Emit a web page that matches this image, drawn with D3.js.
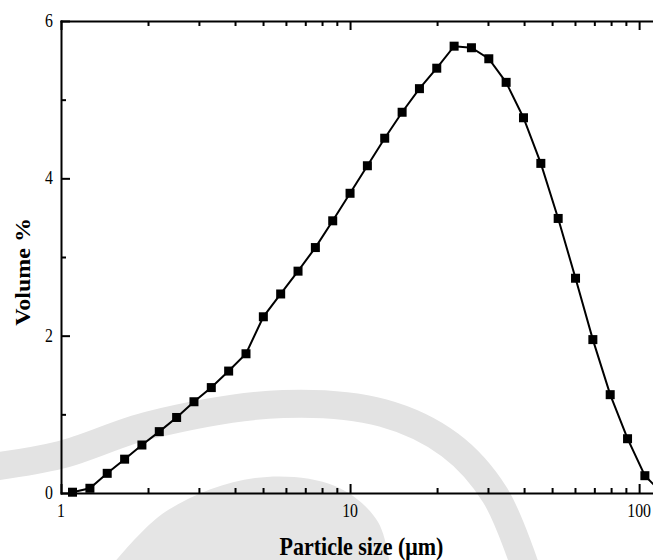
<!DOCTYPE html>
<html>
<head>
<meta charset="utf-8">
<script src="https://cdn.jsdelivr.net/npm/d3@7"></script>
<style>
  html, body { margin: 0; padding: 0; background: #ffffff; }
  svg { display: block; }
</style>
</head>
<body>
<svg id="chart" width="653" height="560"></svg>
<script>
// Particle size distribution (laser diffraction bins, µm) and volume fraction (%)
const sizes = [1.096, 1.259, 1.445, 1.660, 1.905, 2.188, 2.512, 2.884, 3.311, 3.802,
               4.365, 5.012, 5.754, 6.607, 7.586, 8.710, 10.00, 11.48, 13.18, 15.14,
               17.38, 19.95, 22.91, 26.30, 30.20, 34.67, 39.81, 45.71, 52.48, 60.26,
               69.18, 79.43, 91.20, 104.7, 120.2];
const volumes = [0.01, 0.06, 0.25, 0.43, 0.61, 0.78, 0.96, 1.16, 1.34, 1.55,
                 1.77, 2.24, 2.53, 2.82, 3.12, 3.46, 3.81, 4.16, 4.51, 4.84,
                 5.14, 5.40, 5.68, 5.66, 5.52, 5.22, 4.77, 4.19, 3.49, 2.73,
                 1.95, 1.25, 0.69, 0.22, 0.00];

const xMajorTicks = [1, 10, 100];
const xMinorTicks = [2, 3, 4, 5, 6, 7, 8, 9, 20, 30, 40, 50, 60, 70, 80, 90];
const yMajorTicks = [0, 2, 4, 6];
const yMinorTicks = [1, 3, 5];
const xTitle = "Particle size (\u03bcm)";
const yTitle = "Volume %";

// background seal bands (light grey)
const sealOuter = [[-30, 470], [60, 455], [150, 425], [283, 404], [383, 413],
                   [450, 445], [495, 495], [528, 575]];
const sealInner = [[100, 580], [165, 512], [255, 478], [335, 486], [378, 522],
                   [392, 580]];

const W = 653, H = 560;
const frame = { left: 61, right: 662, top: 21, bottom: 493 };
const squeeze = 0.88;

const svg = d3.select("#chart");

const x = d3.scaleLog().domain([1, 120]).range([frame.left, frame.right]);
const y = d3.scaleLinear().domain([0, 6]).range([frame.bottom, frame.top]);

// ---- seal layer ----
const seal = svg.append("g").attr("class", "seal");
const smooth = d3.line().curve(d3.curveCatmullRom.alpha(0.5));
seal.append("path")
  .attr("d", smooth(sealOuter))
  .attr("fill", "none")
  .attr("stroke", "#e3e3e3")
  .attr("stroke-width", 28);
seal.append("path")
  .attr("d", smooth(sealInner) + "Z")
  .attr("fill", "#e5e5e5")
  .attr("stroke", "none");

// ---- axes ----
function styleAxis(g, keepDomain) {
  g.select(".domain")
    .attr("stroke", keepDomain ? "#000" : "none")
    .attr("stroke-width", 2)
    .attr("stroke-linecap", "square");
  g.selectAll(".tick line").attr("stroke", "#000").attr("stroke-width", 2);
  g.selectAll(".tick text").remove();
}

const axes = svg.append("g").attr("class", "axes");

// bottom
axes.append("g").attr("transform", `translate(0,${frame.bottom})`)
  .call(d3.axisBottom(x).tickValues(xMajorTicks).tickSize(-9).tickSizeOuter(0))
  .call(g => styleAxis(g, true));
axes.append("g").attr("transform", `translate(0,${frame.bottom})`)
  .call(d3.axisBottom(x).tickValues(xMinorTicks).tickSize(-5).tickSizeOuter(0))
  .call(g => styleAxis(g, false));
// top
axes.append("g").attr("transform", `translate(0,${frame.top})`)
  .call(d3.axisTop(x).tickValues(xMajorTicks).tickSize(-9).tickSizeOuter(0))
  .call(g => styleAxis(g, true));
axes.append("g").attr("transform", `translate(0,${frame.top})`)
  .call(d3.axisTop(x).tickValues(xMinorTicks).tickSize(-5).tickSizeOuter(0))
  .call(g => styleAxis(g, false));
// left
axes.append("g").attr("transform", `translate(${frame.left},0)`)
  .call(d3.axisLeft(y).tickValues(yMajorTicks).tickSize(-9).tickSizeOuter(0))
  .call(g => styleAxis(g, true));
axes.append("g").attr("transform", `translate(${frame.left},0)`)
  .call(d3.axisLeft(y).tickValues(yMinorTicks).tickSize(-5).tickSizeOuter(0))
  .call(g => styleAxis(g, false));
// right
axes.append("g").attr("transform", `translate(${frame.right},0)`)
  .call(d3.axisRight(y).tickValues(yMajorTicks).tickSize(-9).tickSizeOuter(0))
  .call(g => styleAxis(g, true));
axes.append("g").attr("transform", `translate(${frame.right},0)`)
  .call(d3.axisRight(y).tickValues(yMinorTicks).tickSize(-5).tickSizeOuter(0))
  .call(g => styleAxis(g, false));

// ---- tick labels (Times-like serif, slightly condensed) ----
const labels = svg.append("g")
  .attr("font-family", "'Liberation Serif', 'Times New Roman', serif")
  .attr("fill", "#000");

labels.selectAll("text.xl")
  .data(xMajorTicks)
  .join("text")
  .attr("class", "xl")
  .attr("transform", d => `translate(${x(d)},517) scale(${squeeze},1)`)
  .attr("text-anchor", "middle")
  .attr("font-size", 18)
  .text(d => d3.format("d")(d));

labels.selectAll("text.yl")
  .data(yMajorTicks)
  .join("text")
  .attr("class", "yl")
  .attr("transform", d => `translate(53,${y(d) + 6}) scale(${squeeze},1)`)
  .attr("text-anchor", "end")
  .attr("font-size", 18)
  .text(d => d);

// axis titles
labels.append("text")
  .attr("transform", `translate(${(frame.left + frame.right) / 2},555) scale(${squeeze},1)`)
  .attr("text-anchor", "middle")
  .attr("font-size", 25)
  .attr("font-weight", "bold")
  .text(xTitle);

labels.append("text")
  .attr("transform", `translate(30,272) scale(${squeeze},1) rotate(-90)`)
  .attr("text-anchor", "middle")
  .attr("font-size", 24)
  .attr("font-weight", "bold")
  .text(yTitle);

// ---- data series ----
const points = sizes.map((s, i) => ({ size: s, vol: volumes[i] }));

svg.append("path")
  .datum(points)
  .attr("fill", "none")
  .attr("stroke", "#000")
  .attr("stroke-width", 2)
  .attr("d", d3.line().x(d => x(d.size)).y(d => y(d.vol)));

const m = 9;
svg.append("g")
  .selectAll("rect")
  .data(points)
  .join("rect")
  .attr("x", d => x(d.size) - m / 2)
  .attr("y", d => y(d.vol) - m / 2)
  .attr("width", m)
  .attr("height", m)
  .attr("fill", "#000");
</script>
</body>
</html>
